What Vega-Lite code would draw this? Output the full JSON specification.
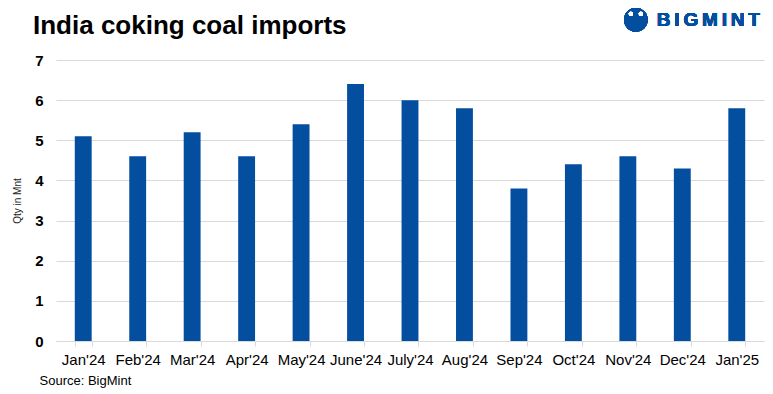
{
  "$schema": "https://vega.github.io/schema/vega-lite/v6.json",
  "width": 708,
  "height": 281,
  "autosize": "none",
  "padding": {"left": 56, "top": 60, "right": 9, "bottom": 53},
  "background": "white",
  "config": {"view": {"stroke": null}, "font": "Liberation Sans"},
  "title": {
    "text": "India coking coal imports",
    "anchor": "start",
    "frame": "group",
    "dx": -23,
    "dy": 52,
    "offset": 0,
    "baseline": "alphabetic",
    "font": "Liberation Sans",
    "fontSize": 26,
    "fontWeight": "bold",
    "color": "#000000"
  },
  "data": {
    "values": [
      {"month": "Jan'24", "qty": 5.1},
      {"month": "Feb'24", "qty": 4.6},
      {"month": "Mar'24", "qty": 5.2},
      {"month": "Apr'24", "qty": 4.6},
      {"month": "May'24", "qty": 5.4},
      {"month": "June'24", "qty": 6.4},
      {"month": "July'24", "qty": 6.0},
      {"month": "Aug'24", "qty": 5.8},
      {"month": "Sep'24", "qty": 3.8},
      {"month": "Oct'24", "qty": 4.4},
      {"month": "Nov'24", "qty": 4.6},
      {"month": "Dec'24", "qty": 4.3},
      {"month": "Jan'25", "qty": 5.8}
    ]
  },
  "layer": [
    {
      "mark": {"type": "bar", "color": "#044ea0"},
      "encoding": {
        "x": {
          "field": "month",
          "type": "nominal",
          "sort": null,
          "scale": {"paddingInner": 0.69, "paddingOuter": 0.345},
          "axis": {
            "title": "Source: BigMint",
            "titleAnchor": "start",
            "titleAlign": "left",
            "titleBaseline": "alphabetic",
            "titleX": -17,
            "titleY": 43,
            "titleFontSize": 13,
            "titleFontWeight": "normal",
            "titleColor": "#000000",
            "labelAngle": 0,
            "labelFontSize": 15,
            "labelColor": "#000000",
            "labelPadding": 6,
            "tickBand": "extent",
            "ticks": true,
            "tickSize": 5,
            "tickColor": "#d9d9d9",
            "domainColor": "#d9d9d9",
            "grid": false
          }
        },
        "y": {
          "field": "qty",
          "type": "quantitative",
          "scale": {"domain": [0, 7], "nice": false},
          "axis": {
            "values": [0, 1, 2, 3, 4, 5, 6, 7],
            "title": "Qty in Mnt",
            "titleFontSize": 10,
            "titleFontWeight": "normal",
            "titleColor": "#222222",
            "titlePadding": 12,
            "labelFontSize": 15,
            "labelFontWeight": "bold",
            "labelColor": "#000000",
            "labelPadding": 13,
            "domain": false,
            "ticks": false,
            "grid": true,
            "gridColor": "#d9d9d9"
          }
        }
      }
    },
    {
      "mark": {"type": "point", "shape": "circle", "filled": true, "color": "#044ea0", "size": 560, "opacity": 1, "xOffset": 8},
      "encoding": {"x": {"datum": "Nov'24"}, "y": {"datum": 8}}
    },
    {
      "mark": {"type": "point", "shape": "circle", "filled": true, "color": "white", "size": 18, "opacity": 1, "xOffset": 3},
      "encoding": {"x": {"datum": "Nov'24"}, "y": {"datum": 8.15}}
    },
    {
      "mark": {"type": "point", "shape": "circle", "filled": true, "color": "white", "size": 18, "opacity": 1, "xOffset": 13},
      "encoding": {"x": {"datum": "Nov'24"}, "y": {"datum": 8.15}}
    },
    {
      "mark": {"type": "text", "text": "B\u2009I\u2009G\u2009M\u2009I\u2009N\u2009T", "align": "left", "baseline": "middle", "dx": 29, "fontSize": 19, "fontWeight": "bold", "color": "#044ea0", "font": "Liberation Sans"},
      "encoding": {"x": {"datum": "Nov'24"}, "y": {"datum": 8}}
    }
  ]
}
